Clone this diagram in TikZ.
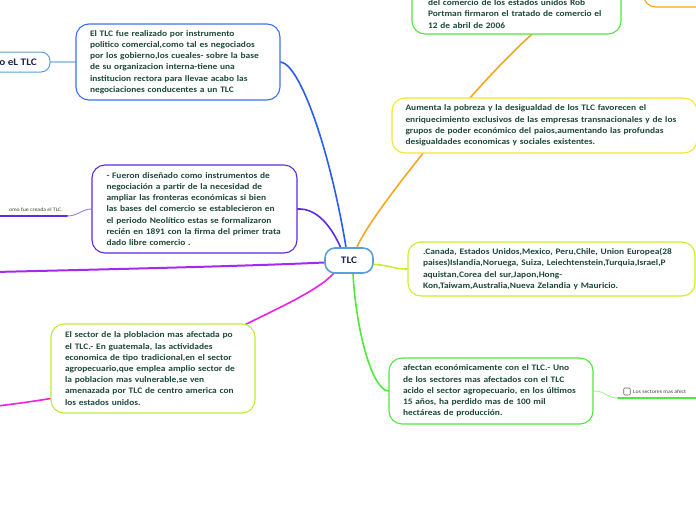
\documentclass[tikz,border=0pt]{standalone}
\usepackage{fontspec}
\setmainfont{Carlito}[FakeStretch=1.12]
\usetikzlibrary{backgrounds,calc}
\definecolor{txt}{HTML}{1D4A3A}
\definecolor{navy}{HTML}{1B2A48}
\definecolor{cblue}{HTML}{3D6FF0}
\definecolor{lineblue}{HTML}{2A5CF0}
\definecolor{cpurple}{HTML}{5B2BE8}
\definecolor{thinpurple}{HTML}{8E7EF0}
\definecolor{cviolet}{HTML}{A52AF0}
\definecolor{cmagenta}{HTML}{F020E0}
\definecolor{cgreen}{HTML}{4CEB3A}
\definecolor{thingreen}{HTML}{A5F09A}
\definecolor{cyg}{HTML}{C8F028}
\definecolor{csector}{HTML}{BDEB3F}
\definecolor{cyellow}{HTML}{F2E62C}
\definecolor{corange}{HTML}{F5A623}
\definecolor{tlcblue}{HTML}{5AA0D8}
\definecolor{lblue}{HTML}{A8C8F0}
\begin{document}
\begin{tikzpicture}[x=1pt,y=-1pt,
  box/.style={draw, rounded corners=13pt, fill=white, line width=1.1pt, align=left,
    font=\bfseries\fontsize{8.4}{11.2}\selectfont, text=txt, inner sep=0pt},
  conn/.style={line width=1.6pt, line cap=round},
  thin/.style={line width=0.9pt},
  small/.style={font=\fontsize{5.2}{6}\selectfont, text=black!75, inner sep=0pt}]
\useasboundingbox (0,0) rectangle (696,520);
\clip (0,0) rectangle (696,520);

% boxes
\node[box, draw=tlcblue, line width=1.6pt, rounded corners=10pt, minimum width=48, minimum height=25,
  font=\bfseries\fontsize{10}{12}\selectfont, text=navy, align=center] (tlc) at (349,260.5) {TLC};

\node[box, draw=cblue, minimum width=204, minimum height=76, text width=176] (n1) at (178,62)
{El TLC  fue realizado por instrumento\\
politico comercial,como tal es negociados\\
por los gobierno,los cueales- sobre la base\\
de su organizacion interna-tiene una\\
institucion rectora para llevae acabo las\\
negociaciones conducentes a un TLC};

\node[box, draw=tlcblue, line width=1pt, rounded corners=9pt, minimum width=90, minimum height=20] (noel) at (5,62) {};
\node[font=\bfseries\fontsize{10}{12}\selectfont, text=navy, inner sep=0pt, anchor=east] (noeltxt) at (37,62) {o eL TLC};

\node[box, draw=cpurple, minimum width=205, minimum height=88, text width=176] (np) at (194.5,209)
{- Fueron diseñado como instrumentos de\\
negociación a partir de la necesidad de\\
ampliar las fronteras económicas si bien\\
las bases del comercio se establecieron en\\
el periodo Neolítico estas se formalizaron\\
recién en 1891 con la firma del primer trata\\
dado libre comercio .};

\node[box, draw=csector, minimum width=204, minimum height=89, text width=176] (ns) at (153,368.5)
{El sector de la ploblacion  mas afectada po\\
el TLC.- En guatemala,  las actividades\\
economica de tipo tradicional,en el sector\\
agropecuario,que emplea amplio sector de\\
la poblacion mas vulnerable,se ven\\
amenazada por TLC de centro america con\\
los estados unidos.};

\node[box, draw=cyg, minimum width=287, minimum height=54, text width=257] (nc) at (551.5,269)
{.Canada, Estados Unidos,Mexico, Peru,Chile, Union Europea(28\\
paises)Islandia,Noruega, Suiza, Leiechtenstein,Turquia,Israel,P\\
aquistan,Corea del sur,Japon,Hong-\\
Kon,Taiwam,Australia,Nueva Zelandia y Mauricio.};

\node[box, draw=cgreen, minimum width=204, minimum height=66, text width=176] (ng) at (491,391)
{afectan económicamente con el TLC.- Uno\\
de los sectores mas afectados con el TLC\\
acido el sector agropecuario, en los últimos\\
15 años, ha perdido mas de 100 mil\\
hectáreas de producción.};

\node[box, draw=cyellow, minimum width=305, minimum height=55, text width=278] (ny) at (544.5,125.5)
{Aumenta la pobreza y la desigualdad de los TLC favorecen el\\
enriquecimiento exclusivos de las empresas transnacionales y de los\\
grupos de poder económico del paios,aumentando las profundas\\
desigualdades economicas y sociales existentes.};

\node[box, draw=cgreen, minimum width=209, minimum height=74] (gtop) at (516.5,-3) {};
\node[box, draw=none, fill=none, text width=190, anchor=center] (gtoptxt) at (523,14)
{del comercio de los estados unidos Rob\\
Portman firmaron el tratado de comercio el\\
12 de abril de 2006};

\node[box, draw=corange, minimum width=114, minimum height=47] (nor) at (700,-16.5) {};

\node[draw=black!60, line width=0.6pt, rounded corners=1pt, minimum width=6.5, minimum height=7, inner sep=0pt] (chk) at (627,391.5) {};
\node[small, anchor=west] (chktxt) at (633,392) {Los sectores mas afect};
\node[small, anchor=south east] (lefttxt) at (63,212) {omo fue creada el TLC.};

\coordinate (pl1) at (67,216);
\coordinate (pl2) at (-5,216);
\coordinate (gr1) at (618,398);
\coordinate (gr2) at (700,398);
\coordinate (vl) at (-5,272);
\coordinate (ml) at (-3,406);

\begin{scope}[on background layer]
\fill[white] (0,0) rectangle (696,520);
% blue
\draw[conn, lineblue] (n1.east) .. controls (300,64) and (330,150) .. ($(tlc.north)+(-3,0)$);
% purple
\draw[conn, cpurple] (np.east) .. controls (318,208) and (332,228) .. ($(tlc.north)+(-8,1)$);
% orange
\draw[conn, corange] ($(tlc.north)+(8,0)$) .. controls (370,215) and (470,90) .. ($(gtop.south)+(15,0)$);
% violet
\draw[conn, cviolet, line width=2pt] (vl) .. controls (120,269) and (250,266) .. ($(tlc.west)+(0,2)$);
% magenta
\draw[conn, cmagenta] ($(tlc.south)+(-15,-1)$) .. controls (320,290) and (270,312) .. ($(ns.north east)+(-10,1)$);
\draw[conn, cmagenta] ($(ns.south west)+(0,-15)$) .. controls (35,401) and (15,404) .. (ml);
% green
\draw[conn, cgreen] ($(tlc.south)+(4,0)$) .. controls (356,330) and (372,390) .. (ng.west);
% yellow-green
\draw[conn, cyg] ($(tlc.east)+(0,4)$) .. controls (390,265) and (392,269) .. (nc.west);
% light blue
\draw[conn, lblue, line width=2pt] (noel.east) -- (n1.west);
% purple left
\draw[thin, thinpurple] (np.west) .. controls (82,209) and (78,216) .. (pl1);
\draw[conn, cpurple, line width=2pt] (pl1) -- (pl2);
% green right
\draw[thin, thingreen] (ng.east) .. controls (606,391) and (606,398) .. (gr1);
\draw[conn, cgreen, line width=2pt] (gr1) -- (gr2);
\end{scope}
\end{tikzpicture}
\end{document}
